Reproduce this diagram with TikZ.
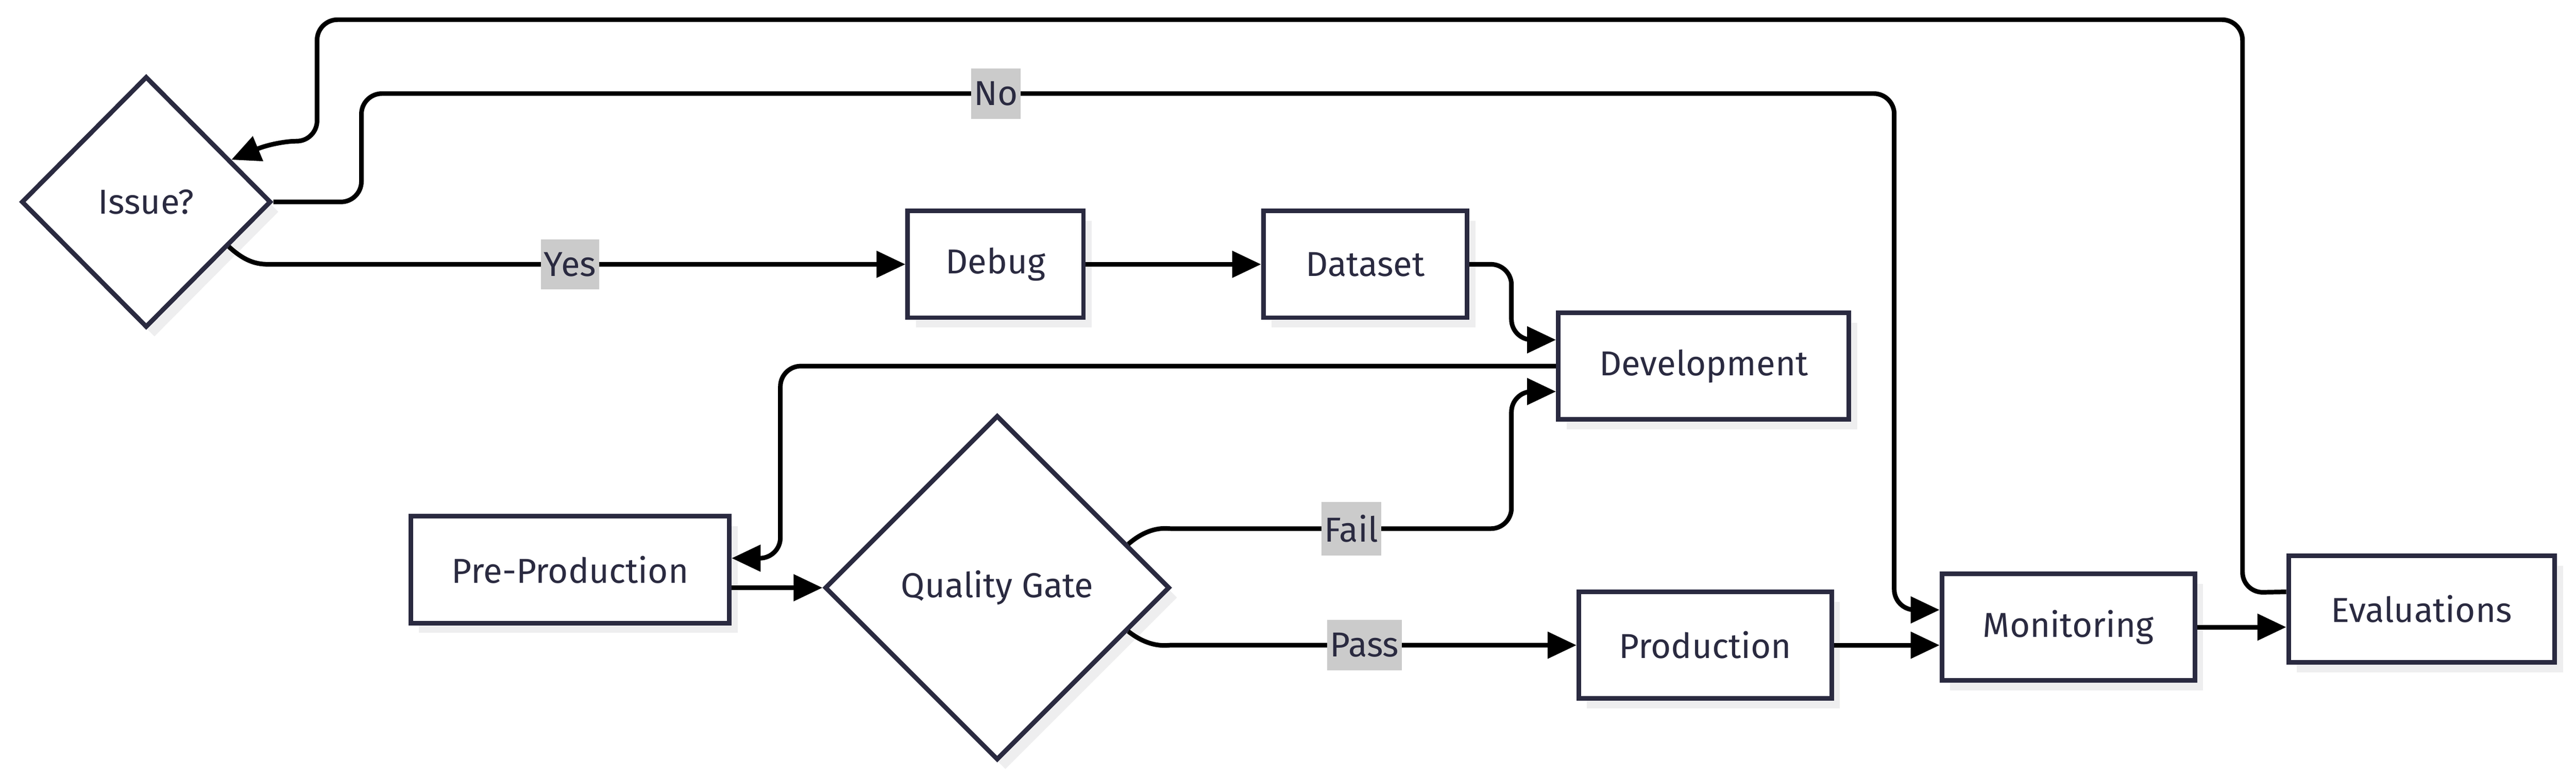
\documentclass[tikz,border=0pt]{standalone}
\usepackage{fontspec}
\setmainfont{Fira Sans}
\usetikzlibrary{arrows.meta, positioning, shapes.geometric, calc, shadows}
\definecolor{ink}{HTML}{2A2A40}
\definecolor{lblgray}{HTML}{CBCBCB}
\definecolor{shade}{HTML}{EEEEEF}

\begin{document}
\begin{tikzpicture}[x=0.02cm, y=-0.02cm,
        box/.style={draw=ink, line width=1.6pt, fill=white, text=ink, minimum height=1.3cm,
            font=\fontsize{12}{14}\selectfont,
            drop shadow={shadow xshift=0.1cm, shadow yshift=-0.12cm, fill=shade, opacity=1}},
        decision/.style={box, diamond, inner sep=0pt},
        edge/.style={line width=1.6pt, rounded corners=0.25cm, -{Triangle[length=10pt,width=9pt]}},
        lbl/.style={sharp corners, fill=lblgray, text=ink, inner xsep=1pt, inner ysep=4.5pt, font=\fontsize{12}{14}\selectfont}]
            \useasboundingbox (0,0) rectangle (1568,475);

            % Nodes
            \node[decision, minimum width=3.04cm, minimum height=3.06cm] (iss) at (89,123) {Issue?};
            \node[box, minimum width=2.14cm] (deb) at (606,161) {Debug};
            \node[box, minimum width=2.48cm] (dat) at (831,161) {Dataset};
            \node[box, minimum width=3.54cm] (dev) at (1037,223) {Development};
            \node[box, minimum width=3.88cm] (pre) at (347,347) {Pre-Production};
            \node[decision, minimum width=4.2cm, minimum height=4.2cm] (qg) at (607,358) {Quality Gate};
            \node[box, minimum width=3.08cm] (pro) at (1038,393) {Production};
            \node[box, minimum width=3.08cm] (mon) at (1259,382) {Monitoring};
            \node[box, minimum width=3.24cm] (eva) at (1474,371) {Evaluations};

            % Issue? branches
            \draw[edge] ($(iss.east)!0.35!(iss.south)$) .. controls (152,162) and (160,161) .. (180,161)
                -- node[lbl, pos=0.45] {Yes} (deb.west);
            \draw[edge] (iss.east) -- (220,123) |- node[lbl, pos=0.707] {No} (1153,57) |- ([yshift=0.21cm]mon.west);

            % Fix loop
            \draw[edge] (deb) -- (dat);
            \draw[edge] (dat.east) -- (920,161) |- ([yshift=0.32cm]dev.west);
            \draw[edge] (dev.west) -- (475,223) |- ([yshift=0.14cm]pre.east);
            \draw[edge] (qg.west -| pre.east) -- (qg.west);

            % Quality Gate branches
            \draw[edge] ($(qg.east)!0.25!(qg.north)$) .. controls (700,320) and (710,322) .. (725,322)
                -- node[lbl] {Fail} (920,322) |- ([yshift=-0.31cm]dev.west);
            \draw[edge] ($(qg.east)!0.25!(qg.south)$) .. controls (700,395) and (710,393) .. (725,393)
                -- node[lbl, pos=0.45] {Pass} (pro.west);

            % Production and monitoring
            \draw[edge] (pro.east) -- (pro.east -| mon.west);
            \draw[edge] (mon.east) -- (mon.east -| eva.west);
            \draw[edge] ([yshift=0.21cm]eva.west) -- (1365,361) |- (193,12) -- (193,86) -- (168,86)
                -- ($(iss.east)!0.33!(iss.north)$);
        \end{tikzpicture}
\end{document}
